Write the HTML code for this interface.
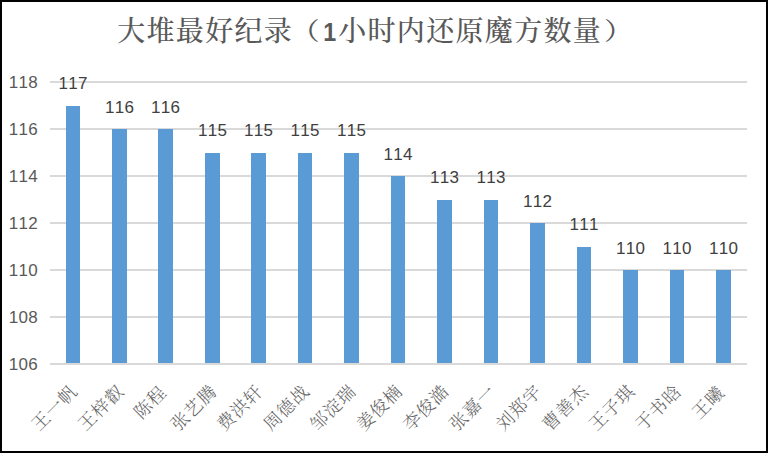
<!DOCTYPE html>
<html lang="zh-CN">
<head>
<meta charset="utf-8">
<title>大堆最好纪录（1小时内还原魔方数量）</title>
<style>
html,body{margin:0;padding:0;background:#fff;}
body{width:769px;height:454px;overflow:hidden;}
svg{display:block;}
.num{font-family:"Liberation Sans",sans-serif;font-kerning:none;}
.cjk{font-family:"Liberation Serif","Noto Serif CJK SC",serif;}
.one{font-family:"Liberation Sans",sans-serif;font-weight:bold;}
</style>
</head>
<body>
<svg width="769" height="454" viewBox="0 0 769 454">
<rect x="0" y="0" width="769" height="454" fill="#ffffff"/>
<rect x="1" y="1" width="766" height="451" fill="#ffffff" stroke="#000000" stroke-width="2"/>

<g fill="#d9d9d9" shape-rendering="crispEdges">
<rect x="50" y="81" width="697" height="2"/>
<rect x="50" y="128" width="697" height="2"/>
<rect x="50" y="175" width="697" height="2"/>
<rect x="50" y="222" width="697" height="2"/>
<rect x="50" y="269" width="697" height="2"/>
<rect x="50" y="316" width="697" height="2"/>
<rect x="50" y="363" width="697" height="2"/>
</g>
<g fill="#5b9bd5" shape-rendering="crispEdges">
<rect x="66" y="106" width="14" height="258"/>
<rect x="112" y="129" width="15" height="235"/>
<rect x="158" y="129" width="15" height="235"/>
<rect x="205" y="153" width="15" height="211"/>
<rect x="251" y="153" width="15" height="211"/>
<rect x="298" y="153" width="14" height="211"/>
<rect x="344" y="153" width="15" height="211"/>
<rect x="391" y="176" width="14" height="188"/>
<rect x="437" y="200" width="15" height="164"/>
<rect x="484" y="200" width="14" height="164"/>
<rect x="530" y="223" width="15" height="141"/>
<rect x="577" y="247" width="14" height="117"/>
<rect x="623" y="270" width="15" height="94"/>
<rect x="670" y="270" width="14" height="94"/>
<rect x="716" y="270" width="15" height="94"/>
</g>
<rect x="50" y="363" width="697" height="2" fill="#d9d9d9" shape-rendering="crispEdges"/>
<g class="num" font-size="17.0" letter-spacing="0.3" fill="#595959" text-anchor="end">
<text x="37.9" y="88.10">118</text>
<text x="37.9" y="135.10">116</text>
<text x="37.9" y="182.10">114</text>
<text x="37.9" y="229.10">112</text>
<text x="37.9" y="276.10">110</text>
<text x="37.9" y="323.10">108</text>
<text x="37.9" y="370.10">106</text>
</g>
<g class="num" font-size="17.0" letter-spacing="0.3" fill="#404040" text-anchor="middle">
<text x="73.20" y="89.00">117</text>
<text x="119.70" y="113.00">116</text>
<text x="165.70" y="113.00">116</text>
<text x="212.70" y="136.00">115</text>
<text x="258.70" y="136.00">115</text>
<text x="305.20" y="136.00">115</text>
<text x="351.70" y="136.00">115</text>
<text x="398.20" y="160.00">114</text>
<text x="444.70" y="183.00">113</text>
<text x="491.20" y="183.00">113</text>
<text x="537.70" y="207.00">112</text>
<text x="584.20" y="230.00">111</text>
<text x="630.70" y="254.00">110</text>
<text x="677.20" y="254.00">110</text>
<text x="723.70" y="254.00">110</text>
</g>
<g font-weight="500">
<text class="cjk" x="117.17" y="41.40" font-size="28.0" letter-spacing="1.33" fill="#595959">大堆最好纪录</text>
<text class="cjk" transform="translate(290.2 40.0) scale(1.2 1)" x="0" y="0" font-size="24.5" fill="#595959">（</text>
<text class="one" transform="translate(329.6 41.0) scale(0.93 1)" x="0" y="0" font-size="25.0" fill="#595959" text-anchor="middle">1</text>
<text class="cjk" x="338.17" y="41.40" font-size="28.0" letter-spacing="1.33" fill="#595959">小时内还原魔方数量</text>
<text class="cjk" transform="translate(604.1 40.0) scale(1.2 1)" x="0" y="0" font-size="24.5" fill="#595959">）</text>
</g>
<g class="cjk" font-weight="300" font-size="17.8" letter-spacing="0.87" fill="#666666" text-anchor="end">
<text transform="translate(73.70 388.00) rotate(-45)" x="0.44" y="0" dy="6.5">王一帆</text>
<text transform="translate(120.20 388.00) rotate(-45)" x="0.44" y="0" dy="6.5">王梓叡</text>
<text transform="translate(162.90 389.30) rotate(-45)" x="0.44" y="0" dy="6.5">陈程</text>
<text transform="translate(213.20 388.00) rotate(-45)" x="0.44" y="0" dy="6.5">张艺腾</text>
<text transform="translate(259.20 388.00) rotate(-45)" x="0.44" y="0" dy="6.5">费洪轩</text>
<text transform="translate(305.70 388.00) rotate(-45)" x="0.44" y="0" dy="6.5">周德战</text>
<text transform="translate(352.20 388.00) rotate(-45)" x="0.44" y="0" dy="6.5">邹淀瑞</text>
<text transform="translate(398.70 388.00) rotate(-45)" x="0.44" y="0" dy="6.5">姜俊楠</text>
<text transform="translate(445.20 388.00) rotate(-45)" x="0.44" y="0" dy="6.5">李俊澔</text>
<text transform="translate(491.70 388.00) rotate(-45)" x="0.44" y="0" dy="6.5">张嘉一</text>
<text transform="translate(538.20 388.00) rotate(-45)" x="0.44" y="0" dy="6.5">刘郑宇</text>
<text transform="translate(584.70 388.00) rotate(-45)" x="0.44" y="0" dy="6.5">曹善杰</text>
<text transform="translate(631.20 388.00) rotate(-45)" x="0.44" y="0" dy="6.5">王子琪</text>
<text transform="translate(677.70 388.00) rotate(-45)" x="0.44" y="0" dy="6.5">于书晗</text>
<text transform="translate(720.90 389.30) rotate(-45)" x="0.44" y="0" dy="6.5">王曦</text>
</g>
</svg>
</body>
</html>
